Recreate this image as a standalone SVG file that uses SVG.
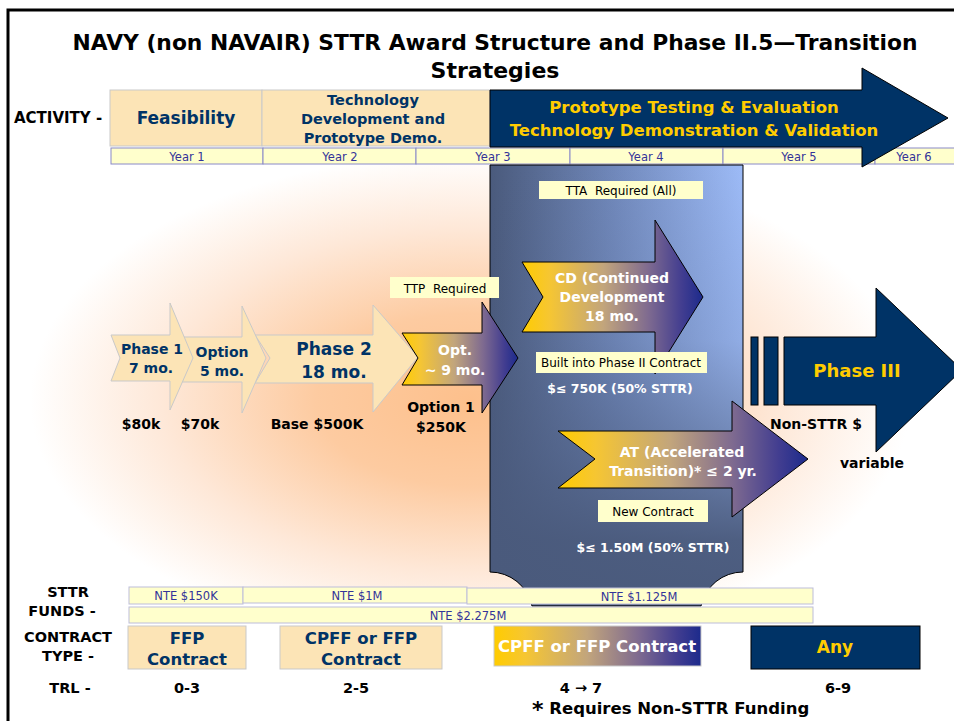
<svg xmlns="http://www.w3.org/2000/svg" width="954" height="721" viewBox="0 0 954 721">
<style>
text{font-family:"DejaVu Sans","Noto Sans",sans-serif}
.b{font-weight:bold}
.c{text-anchor:middle}
.k{fill:#000}
.nv{fill:#003366}
.yl{fill:#FFCC00}
.wh{fill:#FFFFFF}
.yr{font-size:11.5px;fill:#333399;text-anchor:middle}
.lbl{font-size:12px;fill:#000;text-anchor:middle}
.cream{fill:#FCE4B6;stroke:#C9C9C9;stroke-width:1}
.cell{fill:#FFFFCC;stroke:#8A8AC8;stroke-width:1}
.nte{fill:#FFFFCC;stroke:#BDBDDA;stroke-width:1}
.note{fill:#FFFFCC}
.dk{fill:#003366;stroke:#000;stroke-width:1}
.gr{stroke:#000;stroke-width:1}
.side{font-size:14.5px;font-weight:bold;fill:#000;text-anchor:middle}
</style>
<defs>
<radialGradient id="glow" cx="470" cy="400" r="440" gradientUnits="userSpaceOnUse" gradientTransform="translate(470 400) scale(1 0.56) translate(-470 -400)">
<stop offset="0" stop-color="#FDC08C"/>
<stop offset="0.35" stop-color="#FDCBA1"/>
<stop offset="0.7" stop-color="#FEE8D8"/>
<stop offset="1" stop-color="#FFFFFF"/>
</radialGradient>
<linearGradient id="ybg" x1="0" y1="0" x2="1" y2="0">
<stop offset="0" stop-color="#FFCC00"/>
<stop offset="0.15" stop-color="#F6C632"/>
<stop offset="0.45" stop-color="#C2A57C"/>
<stop offset="0.7" stop-color="#7E6A90"/>
<stop offset="0.88" stop-color="#433E90"/>
<stop offset="1" stop-color="#1C2A8C"/>
</linearGradient>
<linearGradient id="panH" x1="0" y1="0" x2="1" y2="0">
<stop offset="0" stop-color="#4A5A7C"/>
<stop offset="0.5" stop-color="#7189BC"/>
<stop offset="1" stop-color="#9DBBF7"/>
</linearGradient>
<linearGradient id="panV" x1="0" y1="0" x2="0" y2="1">
<stop offset="0" stop-color="#4A5A7C" stop-opacity="0"/>
<stop offset="0.4" stop-color="#4A5A7C" stop-opacity="0.15"/>
<stop offset="0.65" stop-color="#4A5A7C" stop-opacity="0.55"/>
<stop offset="0.85" stop-color="#4A5A7C" stop-opacity="0.95"/>
<stop offset="1" stop-color="#4A5A7C" stop-opacity="1"/>
</linearGradient>
</defs>
<rect x="0" y="0" width="954" height="721" fill="#FFFFFF"/>
<rect x="10" y="165" width="944" height="430" fill="url(#glow)"/>
<g id="frame">
<path d="M8,721 L8,10 L954,10" fill="none" stroke="#000" stroke-width="3"/>
</g>
<g id="title">
<text x="495" y="50" class="b c k" font-size="22" textLength="845" lengthAdjust="spacingAndGlyphs">NAVY (non NAVAIR) STTR Award Structure and Phase II.5—Transition</text>
<text x="495" y="78" class="b c k" font-size="22">Strategies</text>
</g>
<g id="activity">
<text x="14" y="123" class="b k" font-size="15">ACTIVITY -</text>
<g id="feasibility">
<rect x="110" y="90" width="152" height="56" class="cream"/>
<text x="186" y="124" class="b c nv" font-size="17">Feasibility</text>
</g>
<g id="techdev">
<rect x="262" y="90" width="228" height="56" class="cream"/>
<text x="373" y="105" class="b c nv" font-size="14.5">Technology</text>
<text x="373" y="124" class="b c nv" font-size="14.5">Development and</text>
<text x="373" y="143" class="b c nv" font-size="14.5">Prototype Demo.</text>
</g>
</g>
<g id="years">
<rect x="111" y="148" width="152" height="16" class="cell"/>
<rect x="263" y="148" width="153" height="16" class="cell"/>
<rect x="416" y="148" width="154" height="16" class="cell"/>
<rect x="570" y="148" width="153" height="16" class="cell"/>
<rect x="723" y="148" width="152" height="16" class="cell"/>
<rect x="875" y="148" width="85" height="16" class="cell"/>
<text x="187" y="160.5" class="yr">Year 1</text>
<text x="340" y="160.5" class="yr">Year 2</text>
<text x="493" y="160.5" class="yr">Year 3</text>
<text x="646" y="160.5" class="yr">Year 4</text>
<text x="799" y="160.5" class="yr">Year 5</text>
<text x="914" y="160.5" class="yr">Year 6</text>
</g>
<g id="prototype-arrow">
<path d="M490,90 L862,90 L862,68 L948,118 L862,167 L862,147 L490,147 Z" class="dk"/>
<text x="694" y="113" class="b c yl" font-size="16.5">Prototype Testing &amp; Evaluation</text>
<text x="694" y="136" class="b c yl" font-size="16.5">Technology Demonstration &amp; Validation</text>
</g>
<g id="phase25-panel">
<path d="M490,165 L743,165 L743,572 A43,43 0 0 0 701,606 L532,606 A43,43 0 0 0 490,572 Z" fill="url(#panH)"/>
<path d="M490,165 L743,165 L743,572 A43,43 0 0 0 701,606 L532,606 A43,43 0 0 0 490,572 Z" fill="url(#panV)" stroke="#000" stroke-width="1"/>
</g>
<g id="tta">
<rect x="539" y="181" width="164" height="18" class="note"/>
<text x="621" y="194.5" class="lbl">TTA&#160; Required (All)</text>
</g>
<g id="cd-arrow">
<path d="M522,262 L655,262 L655,220 L703,297 L655,374 L655,332 L522,332 L543,297 Z" fill="url(#ybg)" class="gr"/>
<text x="612" y="283" class="b c wh" font-size="14">CD (Continued</text>
<text x="612" y="302" class="b c wh" font-size="14">Development</text>
<text x="612" y="321" class="b c wh" font-size="14">18 mo.</text>
</g>
<g id="built-into">
<rect x="536" y="352" width="171" height="21" class="note"/>
<text x="621" y="367" class="lbl">Built into Phase II Contract</text>
<text x="620" y="393" class="b c wh" font-size="12.5">$≤ 750K (50% STTR)</text>
</g>
<g id="at-arrow">
<path d="M558,431 L732,431 L732,401 L808,459 L732,517 L732,488 L558,488 L595,459 Z" fill="url(#ybg)" class="gr"/>
<text x="682" y="457" class="b c wh" font-size="14">AT (Accelerated</text>
<text x="683" y="476" class="b c wh" font-size="14">Transition)* ≤ 2 yr.</text>
</g>
<g id="new-contract">
<rect x="598" y="500" width="110" height="22" class="note"/>
<text x="653" y="515.5" class="lbl">New Contract</text>
<text x="653" y="552" class="b c wh" font-size="12.5">$≤ 1.50M (50% STTR)</text>
</g>
<g id="phase2-arrow">
<path d="M255,335 L373,335 L373,305 L418,357 L373,412 L373,383 L255,383 L270,358 Z" class="cream"/>
<text x="334" y="355" class="b c nv" font-size="17">Phase 2</text>
<text x="334" y="378" class="b c nv" font-size="17">18 mo.</text>
</g>
<g id="option-arrow">
<path d="M182,337 L242,337 L242,306 L266,358 L242,413 L242,382 L182,382 L192,358 Z" class="cream"/>
<text x="222" y="357" class="b c nv" font-size="14">Option</text>
<text x="222" y="376" class="b c nv" font-size="14">5 mo.</text>
</g>
<g id="phase1-arrow">
<path d="M111,335 L170,335 L170,303 L193,358 L170,410 L170,381 L111,381 L120,358 Z" class="cream"/>
<text x="152" y="354" class="b c nv" font-size="14">Phase 1</text>
<text x="151" y="373" class="b c nv" font-size="14">7 mo.</text>
</g>
<g id="opt-arrow">
<path d="M402,333 L482,333 L482,302 L518,358 L482,413 L482,385 L402,385 L418,358 Z" fill="url(#ybg)" class="gr"/>
<text x="455" y="355" class="b c wh" font-size="14">Opt.</text>
<text x="455" y="375" class="b c wh" font-size="14">~ 9 mo.</text>
</g>
<g id="ttp">
<rect x="390" y="277" width="109" height="21" class="note"/>
<text x="445" y="292.5" class="lbl">TTP&#160; Required</text>
</g>
<g id="phase3-arrow">
<rect x="751" y="337" width="7" height="68" class="dk"/>
<rect x="764" y="337" width="14" height="68" class="dk"/>
<path d="M784,337 L876,337 L876,288 L962,370 L876,452 L876,405 L784,405 Z" class="dk"/>
<text x="857" y="377" class="b c yl" font-size="18">Phase III</text>
<text x="816" y="429" class="b c k" font-size="14">Non-STTR $</text>
<text x="872" y="468" class="b c k" font-size="14">variable</text>
</g>
<g id="amounts">
<text x="141" y="429" class="b c k" font-size="14">$80k</text>
<text x="200" y="429" class="b c k" font-size="14">$70k</text>
<text x="317" y="429" class="b c k" font-size="14">Base $500K</text>
<text x="441" y="412" class="b c k" font-size="14">Option 1</text>
<text x="441" y="432" class="b c k" font-size="14">$250K</text>
</g>
<g id="funds">
<text x="68" y="597" class="side">STTR</text>
<text x="62" y="616" class="side">FUNDS -</text>
<rect x="129" y="587" width="114" height="17" class="nte"/>
<rect x="243" y="587" width="224" height="16" class="nte"/>
<rect x="467" y="588" width="346" height="16" class="nte"/>
<rect x="129" y="607" width="684" height="16" class="nte"/>
<text x="186" y="600" class="yr">NTE $150K</text>
<text x="357" y="599.5" class="yr">NTE $1M</text>
<text x="639" y="600.5" class="yr">NTE $1.125M</text>
<text x="468" y="619.5" class="yr">NTE $2.275M</text>
</g>
<g id="contract">
<text x="68" y="642" class="side">CONTRACT</text>
<text x="68" y="661" class="side">TYPE -</text>
<g id="ffp">
<rect x="128" y="626" width="118" height="43" class="cream"/>
<text x="187" y="644" class="b c nv" font-size="16.5">FFP</text>
<text x="187" y="665" class="b c nv" font-size="16.5">Contract</text>
</g>
<g id="cpff1">
<rect x="280" y="626" width="162" height="43" class="cream"/>
<text x="361" y="644" class="b c nv" font-size="16.5">CPFF or FFP</text>
<text x="361" y="665" class="b c nv" font-size="16.5">Contract</text>
</g>
<g id="cpff2">
<rect x="494" y="626" width="207" height="40" fill="url(#ybg)" stroke="#C9C9C9" stroke-width="1"/>
<text x="597" y="652" class="b c wh" font-size="16.5">CPFF or FFP Contract</text>
</g>
<g id="any">
<rect x="751" y="626" width="169" height="43" class="dk"/>
<text x="835" y="653" class="b c yl" font-size="17">Any</text>
</g>
</g>
<g id="trl">
<text x="70" y="693" class="side">TRL -</text>
<text x="187" y="693" class="b c k" font-size="14.5">0-3</text>
<text x="356" y="693" class="b c k" font-size="14.5">2-5</text>
<text x="581" y="693" class="b c k" font-size="14.5">4 → 7</text>
<text x="838" y="693" class="b c k" font-size="14.5">6-9</text>
<text x="532" y="714" class="b k" font-size="16.5"><tspan font-size="22" dy="3">*</tspan><tspan dy="-3"> Requires Non-STTR Funding</tspan></text>
</g>
</svg>
